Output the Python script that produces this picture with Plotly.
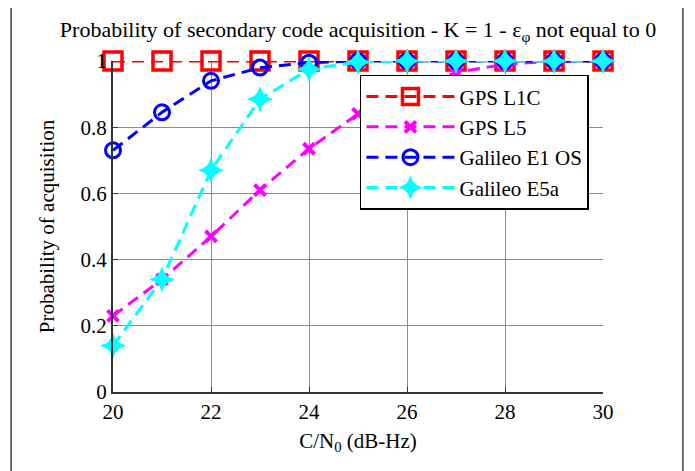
import plotly.graph_objects as go

cn0 = [20, 21, 22, 23, 24, 25, 26, 27, 28, 29, 30]
gps_l1c = [1.0, 1.0, 1.0, 1.0, 1.0, 1.0, 1.0, 1.0, 1.0, 1.0, 1.0]
gps_l5 = [0.23, 0.34, 0.47, 0.61, 0.735, 0.84, 0.92, 0.965, 0.99, 1.0, 1.0]
gal_e1os = [0.73, 0.845, 0.94, 0.98, 0.995, 1.0, 1.0, 1.0, 1.0, 1.0, 1.0]
gal_e5a = [0.14, 0.34, 0.67, 0.885, 0.975, 0.997, 1.0, 1.0, 1.0, 1.0, 1.0]
names = ["GPS L1C", "GPS L5", "Galileo E1 OS", "Galileo E5a"]
x_ticks = [20, 22, 24, 26, 28, 30]
y_ticks = [0, 0.2, 0.4, 0.6, 0.8, 1]
y_tick_text = ["0", "0.2", "0.4", "0.6", "0.8", "1"]

FONT = "Liberation Serif"
DASH = "12px,7px"

fig = go.Figure()
fig.add_trace(go.Scatter(
    x=cn0, y=gps_l1c, name=names[0], mode="lines+markers", cliponaxis=False,
    line=dict(color="#ff0000", width=3, dash=DASH),
    marker=dict(symbol="square-open", size=18, color="#ff0000", line=dict(width=3.5, color="#ff0000"))))
fig.add_trace(go.Scatter(
    x=cn0, y=gps_l5, name=names[1], mode="lines+markers", cliponaxis=False,
    line=dict(color="#ff00ff", width=3, dash=DASH),
    marker=dict(symbol="x-thin-open", size=11, color="#ff00ff", line=dict(width=4, color="#ff00ff"))))
fig.add_trace(go.Scatter(
    x=cn0, y=gal_e1os, name=names[2], mode="lines+markers", cliponaxis=False,
    line=dict(color="#0000ff", width=3, dash=DASH),
    marker=dict(symbol="circle-open", size=15, color="#0000ff", line=dict(width=3, color="#0000ff"))))
fig.add_trace(go.Scatter(
    x=cn0, y=gal_e5a, name=names[3], mode="lines+markers", cliponaxis=False,
    line=dict(color="#00ffff", width=3, dash=DASH),
    marker=dict(symbol="star-diamond", size=17, color="#00ffff", line=dict(width=1, color="#00ffff"))))

fig.update_layout(
    width=695, height=471,
    margin=dict(l=105, r=100, t=53, b=87),
    paper_bgcolor="white", plot_bgcolor="white",
    font=dict(family=FONT, size=21, color="black"),
    title=dict(text="Probability of secondary code acquisition - K = 1 - ε<sub>φ</sub> not equal to 0",
               x=0.5, xref="paper", xanchor="center", y=0.955, yanchor="middle",
               font=dict(family=FONT, size=22, color="black")),
    showlegend=True,
    legend=dict(x=0.504, y=0.958, xanchor="left", yanchor="top",
                bgcolor="white", bordercolor="black", borderwidth=1.5,
                font=dict(family=FONT, size=21, color="black"),
                itemwidth=88, traceorder="normal"),
    xaxis=dict(range=[20, 30], tickvals=x_ticks, showgrid=True, gridcolor="#8c8c8c", gridwidth=1,
               showline=True, linecolor="#333333", linewidth=2, ticks="inside", ticklen=5,
               tickcolor="#333333", zeroline=False, tickfont=dict(family=FONT, size=21),
               title=dict(text="C/N<sub>0</sub> (dB-Hz)", standoff=10, font=dict(family=FONT, size=21))),
    yaxis=dict(range=[0, 1], tickvals=y_ticks, ticktext=y_tick_text, showgrid=True, gridcolor="#8c8c8c",
               gridwidth=1, showline=True, linecolor="#333333", linewidth=2, ticks="inside", ticklen=5,
               tickcolor="#333333", zeroline=False, tickfont=dict(family=FONT, size=21),
               title=dict(text="Probability of acquisition", standoff=20, font=dict(family=FONT, size=21))),
    shapes=[dict(type="rect", xref="paper", yref="paper", x0=-0.208, x1=1.163, y0=-0.35, y1=1.169,
                 line=dict(color="#444444", width=1.5), layer="below")],
)

fig.write_html("out.html")
